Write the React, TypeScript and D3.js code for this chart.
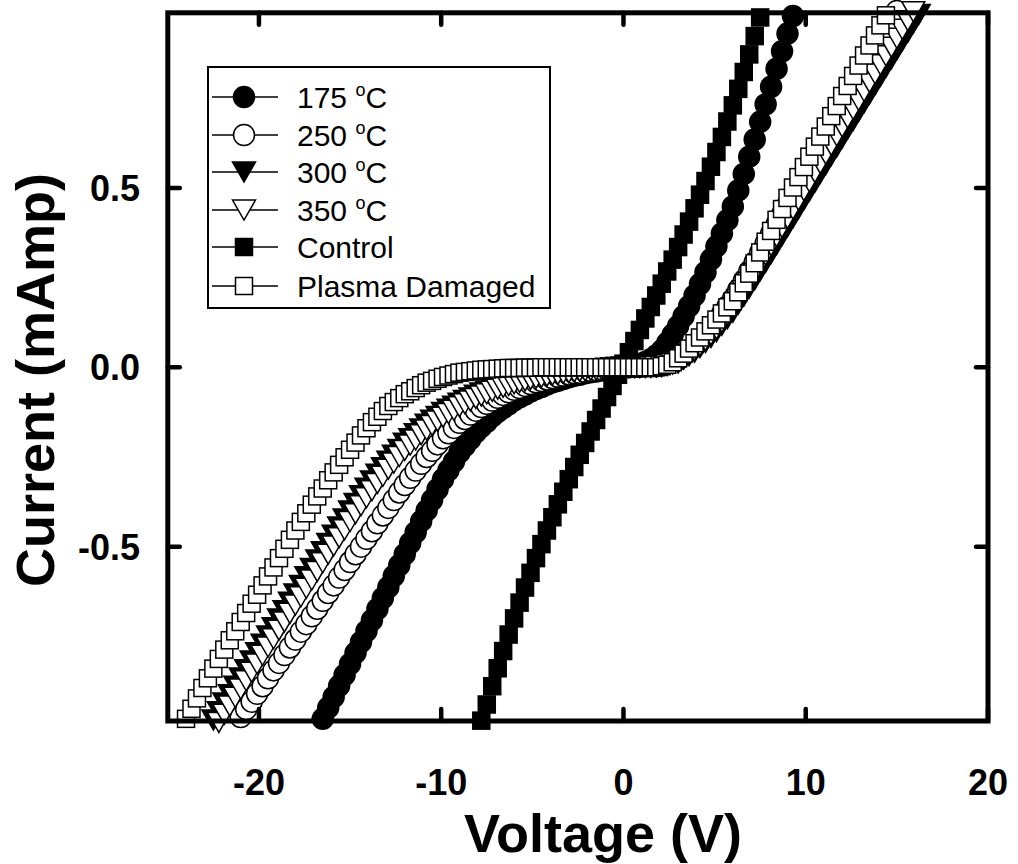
import React from "react";
import * as d3 from "d3";

// Voltage sweep shared by every measurement (V)
const sweepVoltage = [
  -24, -23.7, -23.4, -23.1, -22.8, -22.5, -22.2, -21.9, -21.6, -21.3,
  -21, -20.7, -20.4, -20.1, -19.8, -19.5, -19.2, -18.9, -18.6, -18.3,
  -18, -17.7, -17.4, -17.1, -16.8, -16.5, -16.2, -15.9, -15.6, -15.3,
  -15, -14.7, -14.4, -14.1, -13.8, -13.5, -13.2, -12.9, -12.6, -12.3,
  -12, -11.7, -11.4, -11.1, -10.8, -10.5, -10.2, -9.9, -9.6, -9.3,
  -9, -8.7, -8.4, -8.1, -7.8, -7.5, -7.2, -6.9, -6.6, -6.3,
  -6, -5.7, -5.4, -5.1, -4.8, -4.5, -4.2, -3.9, -3.6, -3.3,
  -3, -2.7, -2.4, -2.1, -1.8, -1.5, -1.2, -0.9, -0.6, -0.3,
  0, 0.3, 0.6, 0.9, 1.2, 1.5, 1.8, 2.1, 2.4, 2.7,
  3, 3.3, 3.6, 3.9, 4.2, 4.5, 4.8, 5.1, 5.4, 5.7,
  6, 6.3, 6.6, 6.9, 7.2, 7.5, 7.8, 8.1, 8.4, 8.7,
  9, 9.3, 9.6, 9.9, 10.2, 10.5, 10.8, 11.1, 11.4, 11.7,
  12, 12.3, 12.6, 12.9, 13.2, 13.5, 13.8, 14.1, 14.4, 14.7,
  15, 15.3, 15.6, 15.9, 16.2, 16.5, 16.8,
];

// Current (mA); each list begins at the given sweep voltage
const start175 = -16.5;
const current175 = [
  -0.980, -0.949, -0.919, -0.888, -0.858, -0.827, -0.796, -0.766, -0.735, -0.705,
  -0.674, -0.643, -0.613, -0.582, -0.552, -0.521, -0.490, -0.460, -0.429, -0.399,
  -0.370, -0.340, -0.312, -0.287, -0.263, -0.238, -0.219, -0.200, -0.181, -0.166,
  -0.152, -0.137, -0.124, -0.114, -0.103, -0.092, -0.084, -0.076, -0.068, -0.061,
  -0.055, -0.048, -0.042, -0.038, -0.033, -0.028, -0.024, -0.021, -0.017, -0.014,
  -0.012, -0.009, -0.006, -0.004, -0.002, 0.000, 0.002, 0.005, 0.009, 0.015,
  0.022, 0.033, 0.047, 0.068, 0.091, 0.115, 0.142, 0.170, 0.200, 0.232,
  0.265, 0.301, 0.337, 0.373, 0.410, 0.448, 0.493, 0.539, 0.587, 0.635,
  0.684, 0.733, 0.782, 0.832, 0.881, 0.930, 0.979,
];

const start250 = -21.0;
const current250 = [
  -0.975, -0.953, -0.932, -0.910, -0.889, -0.867, -0.845, -0.824, -0.802, -0.781,
  -0.759, -0.737, -0.716, -0.694, -0.673, -0.651, -0.629, -0.608, -0.586, -0.565,
  -0.543, -0.521, -0.500, -0.478, -0.457, -0.435, -0.413, -0.392, -0.370, -0.349,
  -0.328, -0.308, -0.288, -0.269, -0.250, -0.233, -0.215, -0.198, -0.184, -0.169,
  -0.155, -0.144, -0.132, -0.121, -0.111, -0.102, -0.093, -0.085, -0.077, -0.070,
  -0.063, -0.058, -0.052, -0.047, -0.042, -0.038, -0.034, -0.030, -0.026, -0.023,
  -0.020, -0.017, -0.015, -0.012, -0.010, -0.008, -0.006, -0.005, -0.003, -0.002,
  0.000, 0.000, 0.001, 0.001, 0.002, 0.003, 0.003, 0.006, 0.011, 0.017,
  0.022, 0.034, 0.046, 0.058, 0.074, 0.091, 0.108, 0.127, 0.148, 0.169,
  0.190, 0.216, 0.241, 0.267, 0.293, 0.319, 0.345, 0.372, 0.399, 0.426,
  0.453, 0.480, 0.507, 0.534, 0.561, 0.588, 0.615, 0.642, 0.669, 0.696,
  0.723, 0.750, 0.777, 0.804, 0.831, 0.858, 0.885, 0.912, 0.939, 0.966, 0.993,
];

const start300 = -22.5;
const current300 = [
  -0.983, -0.960, -0.936, -0.913, -0.889, -0.866, -0.843, -0.819, -0.796, -0.772,
  -0.749, -0.726, -0.702, -0.679, -0.655, -0.632, -0.608, -0.584, -0.561, -0.537,
  -0.514, -0.491, -0.468, -0.445, -0.423, -0.401, -0.380, -0.358, -0.337, -0.317,
  -0.298, -0.280, -0.262, -0.245, -0.229, -0.212, -0.199, -0.185, -0.172, -0.159,
  -0.148, -0.137, -0.126, -0.117, -0.109, -0.100, -0.093, -0.086, -0.078, -0.072,
  -0.066, -0.060, -0.055, -0.050, -0.046, -0.041, -0.037, -0.034, -0.030, -0.027,
  -0.025, -0.022, -0.019, -0.017, -0.015, -0.013, -0.011, -0.009, -0.008, -0.006,
  -0.005, -0.004, -0.003, -0.002, -0.001, 0.000, 0.000, 0.000, 0.000, 0.000,
  0.000, 0.001, 0.002, 0.005, 0.009, 0.012, 0.022, 0.032, 0.042, 0.055,
  0.069, 0.083, 0.099, 0.117, 0.135, 0.153, 0.176, 0.198, 0.221, 0.244,
  0.269, 0.293, 0.317, 0.342, 0.367, 0.392, 0.417, 0.442, 0.467, 0.491,
  0.516, 0.541, 0.565, 0.590, 0.614, 0.639, 0.664, 0.688, 0.713, 0.737,
  0.762, 0.787, 0.811, 0.836, 0.860, 0.885, 0.910, 0.934, 0.959, 0.983,
];

const start350 = -22.2;
const current350 = [
  -0.990, -0.967, -0.944, -0.920, -0.897, -0.874, -0.850, -0.827, -0.803, -0.780,
  -0.757, -0.733, -0.710, -0.686, -0.663, -0.640, -0.616, -0.593, -0.569, -0.545,
  -0.521, -0.498, -0.475, -0.453, -0.430, -0.408, -0.386, -0.364, -0.344, -0.324,
  -0.304, -0.284, -0.267, -0.249, -0.232, -0.217, -0.203, -0.188, -0.175, -0.162,
  -0.150, -0.139, -0.129, -0.120, -0.110, -0.102, -0.094, -0.087, -0.080, -0.074,
  -0.067, -0.061, -0.056, -0.051, -0.046, -0.042, -0.038, -0.034, -0.031, -0.028,
  -0.025, -0.022, -0.020, -0.017, -0.015, -0.013, -0.011, -0.010, -0.008, -0.007,
  -0.005, -0.004, -0.002, -0.001, 0.000, 0.000, 0.000, 0.000, 0.000, 0.001,
  0.002, 0.003, 0.007, 0.011, 0.015, 0.026, 0.036, 0.047, 0.060, 0.075,
  0.090, 0.107, 0.126, 0.146, 0.165, 0.189, 0.213, 0.237, 0.262, 0.288,
  0.313, 0.339, 0.364, 0.390, 0.415, 0.441, 0.466, 0.492, 0.517, 0.543,
  0.568, 0.594, 0.619, 0.645, 0.670, 0.695, 0.719, 0.744, 0.769, 0.794,
  0.818, 0.843, 0.868, 0.892, 0.917, 0.942, 0.966, 0.991,
];

const startControl = -7.8;
const currentControl = [
  -0.985, -0.940, -0.889, -0.839, -0.791, -0.745, -0.700, -0.656, -0.614, -0.573,
  -0.532, -0.493, -0.455, -0.418, -0.382, -0.347, -0.312, -0.278, -0.244, -0.211,
  -0.179, -0.147, -0.115, -0.083, -0.052, -0.021, 0.010, 0.042, 0.073, 0.104,
  0.136, 0.168, 0.200, 0.233, 0.267, 0.300, 0.335, 0.370, 0.406, 0.443,
  0.481, 0.519, 0.559, 0.600, 0.642, 0.685, 0.730, 0.776, 0.823, 0.872,
  0.923, 0.975,
];

const startPlasma = -24.0;
const currentPlasma = [
  -0.980, -0.952, -0.923, -0.894, -0.867, -0.840, -0.813, -0.787, -0.761, -0.736,
  -0.710, -0.685, -0.659, -0.634, -0.608, -0.583, -0.558, -0.532, -0.506, -0.481,
  -0.455, -0.431, -0.407, -0.383, -0.360, -0.338, -0.315, -0.293, -0.272, -0.251,
  -0.230, -0.210, -0.190, -0.170, -0.153, -0.138, -0.122, -0.108, -0.097, -0.086,
  -0.075, -0.067, -0.058, -0.050, -0.043, -0.038, -0.032, -0.027, -0.023, -0.019,
  -0.015, -0.013, -0.011, -0.009, -0.007, -0.006, -0.005, -0.004, -0.003, -0.002,
  -0.002, -0.002, -0.001, -0.001, -0.001, 0, 0, 0, 0, 0,
  0, 0, 0, 0, 0, 0, 0, 0, 0, 0,
  0, 0, 0, 0, 0, 0, 0, 0.003, 0.007, 0.014,
  0.025, 0.038, 0.052, 0.067, 0.083, 0.100, 0.117, 0.133, 0.150, 0.167,
  0.184, 0.209, 0.234, 0.261, 0.290, 0.320, 0.350, 0.380, 0.411, 0.441,
  0.472, 0.501, 0.530, 0.558, 0.587, 0.615, 0.643, 0.671, 0.700, 0.728,
  0.756, 0.784, 0.812, 0.841, 0.869, 0.897, 0.925, 0.953, 0.981,
];

const xTicks = [-20, -10, 0, 10, 20];
const yTicks = [-0.5, 0.0, 0.5];

type Shape = "circle" | "triangle" | "square";
interface Series {
  temp?: string;
  label?: string;
  start: number;
  current: number[];
  shape: Shape;
  filled: boolean;
}

// drawing order: later series sit on top
const seriesList: Series[] = [
  { temp: "175", start: start175, current: current175, shape: "circle", filled: true },
  { temp: "250", start: start250, current: current250, shape: "circle", filled: false },
  { temp: "300", start: start300, current: current300, shape: "triangle", filled: true },
  { temp: "350", start: start350, current: current350, shape: "triangle", filled: false },
  { label: "Control", start: startControl, current: currentControl, shape: "square", filled: true },
  { label: "Plasma Damaged", start: startPlasma, current: currentPlasma, shape: "square", filled: false },
];

const W = 1018;
const H = 864;
const FONT = "'Liberation Sans', Arial, Helvetica, sans-serif";

const left = 167.8;
const right = 988;
const top = 12.8;
const bottom = 721;

const x = d3.scaleLinear().domain([-25, 20]).range([left, right]);
const y = d3.scaleLinear().domain([-0.986, 0.988]).range([bottom, top]);

const R = 10.5; // circle radius
const SQ = 17; // square side
const TW = 23; // triangle width
const TH = 20; // triangle height

function Marker({ shape, filled, cx, cy }: { shape: Shape; filled: boolean; cx: number; cy: number }) {
  const fill = filled ? "#000" : "#fff";
  const common = { fill, stroke: "#000", strokeWidth: 1.5 };
  if (shape === "circle") return <circle cx={cx} cy={cy} r={R} {...common} />;
  if (shape === "square")
    return <rect x={cx - SQ / 2} y={cy - SQ / 2} width={SQ} height={SQ} {...common} />;
  const d = `M${cx - TW / 2},${cy - TH / 2}L${cx + TW / 2},${cy - TH / 2}L${cx},${cy + TH / 2}Z`;
  return <path d={d} {...common} strokeLinejoin="miter" />;
}

function pointsOf(s: Series): [number, number][] {
  const i0 = sweepVoltage.findIndex((v) => Math.abs(v - s.start) < 1e-6);
  return s.current.map((c, i) => [sweepVoltage[i0 + i], c]);
}

const line = d3
  .line<[number, number]>()
  .x((d) => x(d[0]))
  .y((d) => y(d[1]));

function LegendText({ s, tx, ty }: { s: Series; tx: number; ty: number }) {
  if (s.temp) {
    return (
      <text x={tx} y={ty} fontSize={30} fontFamily={FONT}>
        {s.temp + " "}
        <tspan fontSize={18} dy={-12}>o</tspan>
        <tspan dy={12}>C</tspan>
      </text>
    );
  }
  return (
    <text x={tx} y={ty} fontSize={30} fontFamily={FONT}>
      {s.label}
    </text>
  );
}

export default function App() {
  const legendRows = [97, 135, 172, 210, 247, 286];
  return (
    <div style={{ position: "absolute", left: 0, top: 0 }}>
      <svg width={W} height={H} viewBox={`0 0 ${W} ${H}`} style={{ display: "block", background: "#fff" }}>
        <rect x={0} y={0} width={W} height={H} fill="#fff" />

        {/* curves */}
        {seriesList.map((s, si) => {
          const pts = pointsOf(s);
          return (
            <g key={si}>
              <path d={line(pts) || ""} fill="none" stroke="#000" strokeWidth={1} />
              {pts.map((p, i) => (
                <Marker key={i} shape={s.shape} filled={s.filled} cx={x(p[0])} cy={y(p[1])} />
              ))}
            </g>
          );
        })}

        {/* legend */}
        <rect x={208} y={67} width={342} height={241} fill="#fff" stroke="#000" strokeWidth={2} />
        {seriesList.map((s, i) => {
          const ly = legendRows[i];
          return (
            <g key={i}>
              <line x1={212} x2={278} y1={ly} y2={ly} stroke="#000" strokeWidth={1.5} />
              <Marker shape={s.shape} filled={s.filled} cx={244} cy={ly} />
              <LegendText s={s} tx={297} ty={ly + 11} />
            </g>
          );
        })}

        {/* frame and ticks */}
        <rect x={left} y={top} width={right - left} height={bottom - top} fill="none" stroke="#000" strokeWidth={5} />
        {xTicks.map((t) => (
          <g key={t}>
            <line x1={x(t)} x2={x(t)} y1={bottom} y2={bottom - 12} stroke="#000" strokeWidth={4.5} strokeLinecap="round" />
            <line x1={x(t)} x2={x(t)} y1={top} y2={top + 12} stroke="#000" strokeWidth={4.5} strokeLinecap="round" />
            <text x={x(t)} y={795} textAnchor="middle" fontSize={36} fontWeight="bold" fontFamily={FONT}>
              {String(t)}
            </text>
          </g>
        ))}
        {yTicks.map((t) => (
          <g key={t}>
            <line x1={left} x2={left + 12} y1={y(t)} y2={y(t)} stroke="#000" strokeWidth={4.5} strokeLinecap="round" />
            <line x1={right} x2={right - 12} y1={y(t)} y2={y(t)} stroke="#000" strokeWidth={4.5} strokeLinecap="round" />
            <text x={140} y={y(t) + 13} textAnchor="end" fontSize={36} fontWeight="bold" fontFamily={FONT}>
              {t.toFixed(1)}
            </text>
          </g>
        ))}

        {/* axis titles */}
        <text x={603} y={852} textAnchor="middle" fontSize={54} fontWeight="bold" fontFamily={FONT}>
          Voltage (V)
        </text>
        <text
          transform={`translate(54, 380) rotate(-90)`}
          textAnchor="middle"
          fontSize={54}
          fontWeight="bold"
          fontFamily={FONT}
        >
          Current (mAmp)
        </text>
      </svg>
    </div>
  );
}
